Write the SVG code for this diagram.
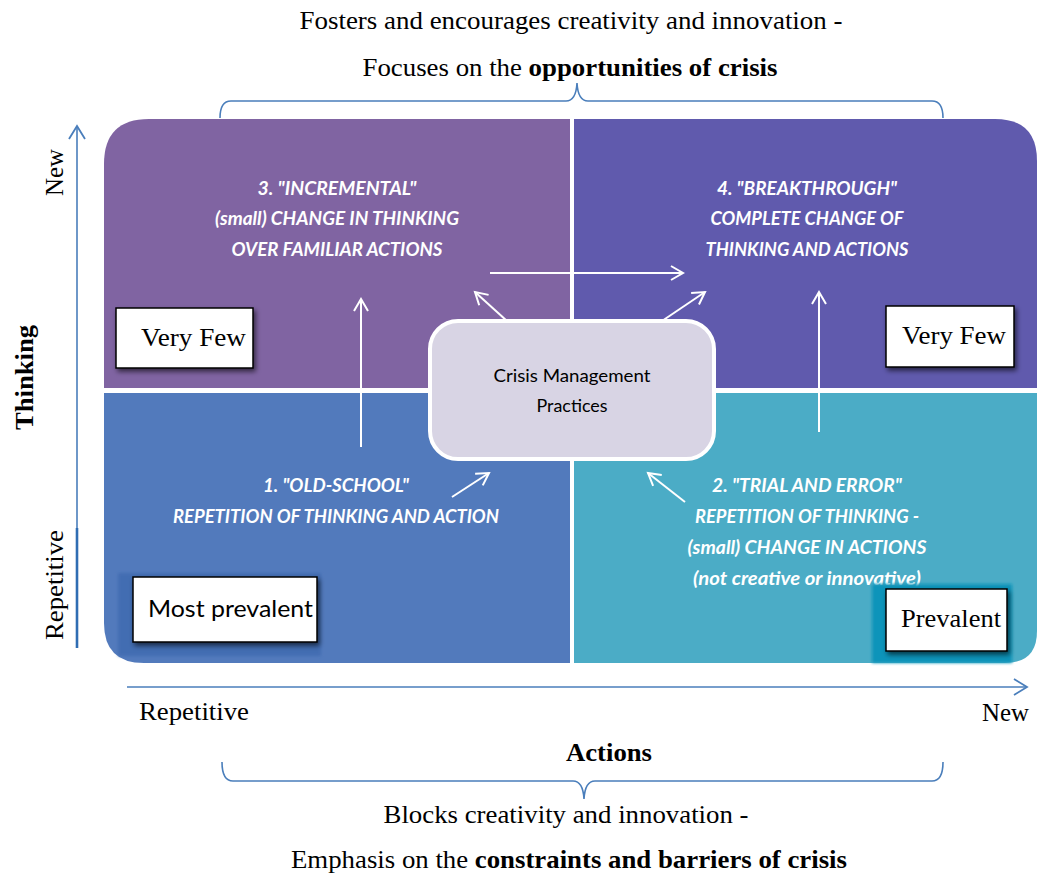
<svg xmlns="http://www.w3.org/2000/svg" width="1037" height="875" viewBox="0 0 1037 875">
<defs>
<style>
.serif{font-family:"Liberation Serif","Times New Roman",serif;fill:#000}
.q{font-family:Lato,"Open Sans",sans-serif;font-weight:bold;font-style:italic;font-size:18px;fill:#fff;text-anchor:middle}
.sans{font-family:Lato,"Open Sans",sans-serif;fill:#000}
.wa{stroke:#fff;stroke-width:2;fill:none}
.ax{stroke:#4A7EBB;stroke-width:1.6;fill:none}
.lbl{fill:#fff;stroke:#000;stroke-width:1.5}
</style>
<marker id="wh" markerUnits="userSpaceOnUse" markerWidth="16" markerHeight="16" refX="13" refY="8" orient="auto">
<path d="M1,1 L13,8 L1,15" fill="none" stroke="#fff" stroke-width="2"/>
</marker>
<marker id="bh" markerUnits="userSpaceOnUse" markerWidth="16" markerHeight="20" refX="14" refY="10" orient="auto">
<path d="M1,2 L14,10 L1,18" fill="none" stroke="#4A7EBB" stroke-width="1.8"/>
</marker>
<filter id="sh" x="-20%" y="-20%" width="150%" height="160%">
<feDropShadow dx="2" dy="3" stdDeviation="2.5" flood-color="#000" flood-opacity="0.6"/>
</filter>
<filter id="blur" x="-10%" y="-10%" width="120%" height="120%">
<feGaussianBlur stdDeviation="1.5"/>
</filter>
</defs>

<g id="quadrant-3">
<path d="M104,164 Q104,119 149,119 L570,119 L570,388 L104,388 Z" fill="#8064A2"/>
<text class="q" x="337" y="195" textLength="159" lengthAdjust="spacingAndGlyphs">3. "INCREMENTAL"</text>
<text class="q" x="337" y="225" textLength="244" lengthAdjust="spacingAndGlyphs">(small) CHANGE IN THINKING</text>
<text class="q" x="337" y="256" textLength="211" lengthAdjust="spacingAndGlyphs">OVER FAMILIAR ACTIONS</text>
</g>
<g id="quadrant-4">
<path d="M574,119 L995,119 Q1037,119 1037,161 L1037,388 L574,388 Z" fill="#605AAD"/>
<text class="q" x="807" y="195" textLength="180" lengthAdjust="spacingAndGlyphs">4. "BREAKTHROUGH"</text>
<text class="q" x="807" y="225" textLength="193" lengthAdjust="spacingAndGlyphs">COMPLETE CHANGE OF</text>
<text class="q" x="807" y="256" textLength="203" lengthAdjust="spacingAndGlyphs">THINKING AND ACTIONS</text>
</g>
<g id="quadrant-1">
<path d="M104,393 L570,393 L570,663 L144,663 Q104,663 104,623 Z" fill="#527ABC"/>
<text class="q" x="336" y="492" textLength="146" lengthAdjust="spacingAndGlyphs">1. "OLD-SCHOOL"</text>
<text class="q" x="336" y="523" textLength="326" lengthAdjust="spacingAndGlyphs">REPETITION OF THINKING AND ACTION</text>
</g>
<g id="quadrant-2">
<path d="M574,393 L1037,393 L1037,631 Q1037,663 1005,663 L574,663 Z" fill="#4BACC6"/>
<text class="q" x="807" y="492" textLength="190" lengthAdjust="spacingAndGlyphs">2. "TRIAL AND ERROR"</text>
<text class="q" x="807" y="523" textLength="224" lengthAdjust="spacingAndGlyphs">REPETITION OF THINKING -</text>
<text class="q" x="807" y="554" textLength="239" lengthAdjust="spacingAndGlyphs">(small) CHANGE IN  ACTIONS</text>
<text class="q" x="807" y="585" textLength="228" lengthAdjust="spacingAndGlyphs">(not creative or innovative)</text>
</g>

<g id="connectors">
<line class="wa" x1="361" y1="447" x2="361" y2="299" marker-end="url(#wh)"/>
<line class="wa" x1="507" y1="321" x2="475" y2="292" marker-end="url(#wh)"/>
<line class="wa" x1="490" y1="273" x2="683" y2="273" marker-end="url(#wh)"/>
<line class="wa" x1="662" y1="321" x2="705" y2="292" marker-end="url(#wh)"/>
<line class="wa" x1="819" y1="432" x2="819" y2="292" marker-end="url(#wh)"/>
<line class="wa" x1="452" y1="497" x2="489" y2="473" marker-end="url(#wh)"/>
<line class="wa" x1="685" y1="502" x2="648" y2="473" marker-end="url(#wh)"/>
</g>

<g id="center">
<rect x="430" y="321" width="284" height="138" rx="28" fill="#D8D4E4" stroke="#fff" stroke-width="4"/>
<text class="sans" x="572" y="382" font-size="18" text-anchor="middle" textLength="157" lengthAdjust="spacingAndGlyphs">Crisis Management</text>
<text class="sans" x="572" y="412" font-size="18" text-anchor="middle" textLength="71" lengthAdjust="spacingAndGlyphs">Practices</text>
</g>

<g id="label-very-few-left">
<rect class="lbl" x="116" y="308" width="137" height="60" filter="url(#sh)"/>
<text class="serif" x="141" y="346" font-size="26" textLength="105" lengthAdjust="spacingAndGlyphs">Very Few</text>
</g>
<g id="label-very-few-right">
<rect class="lbl" x="886" y="306" width="128" height="61" filter="url(#sh)"/>
<text class="serif" x="902" y="344" font-size="26" textLength="104" lengthAdjust="spacingAndGlyphs">Very Few</text>
</g>
<g id="label-most-prevalent">
<rect x="118" y="573" width="203" height="83" fill="#426DB2" filter="url(#blur)"/>
<rect class="lbl" x="133" y="577" width="184" height="65" filter="url(#sh)"/>
<text class="sans" x="148" y="617" font-size="24" textLength="165" lengthAdjust="spacingAndGlyphs">Most prevalent</text>
</g>
<g id="label-prevalent">
<rect x="872" y="584" width="140" height="79" fill="#0A94BA" filter="url(#blur)"/>
<rect class="lbl" x="886" y="589" width="121" height="62" filter="url(#sh)"/>
<text class="serif" x="901" y="627" font-size="26" textLength="100" lengthAdjust="spacingAndGlyphs">Prevalent</text>
</g>

<g id="axis-thinking">
<line class="ax" x1="77" y1="648" x2="77" y2="126" marker-end="url(#bh)"/>
<line x1="77" y1="528" x2="77" y2="648" stroke="#2F6DB3" stroke-width="2.6"/>
<text class="serif" transform="translate(63,196) rotate(-90)" font-size="26" textLength="47" lengthAdjust="spacingAndGlyphs">New</text>
<text class="serif" transform="translate(33,430) rotate(-90)" font-size="26" font-weight="bold" textLength="105" lengthAdjust="spacingAndGlyphs">Thinking</text>
<text class="serif" transform="translate(63,640) rotate(-90)" font-size="26" textLength="110" lengthAdjust="spacingAndGlyphs">Repetitive</text>
</g>

<g id="axis-actions">
<line class="ax" x1="127" y1="687" x2="1027" y2="687" marker-end="url(#bh)"/>
<text class="serif" x="139" y="720" font-size="26" textLength="110" lengthAdjust="spacingAndGlyphs">Repetitive</text>
<text class="serif" x="982" y="721" font-size="26" textLength="47" lengthAdjust="spacingAndGlyphs">New</text>
<text class="serif" x="609" y="761" font-size="26" font-weight="bold" text-anchor="middle" textLength="86" lengthAdjust="spacingAndGlyphs">Actions</text>
</g>

<g id="top-brace">
<path class="ax" d="M220,118 Q220,101 231,101 L566,101 Q576,101 577,83 Q578,101 588,101 L932,101 Q943,101 943,118"/>
<text class="serif" x="571" y="29" font-size="26" text-anchor="middle" textLength="543" lengthAdjust="spacingAndGlyphs">Fosters and encourages creativity and innovation -</text>
<text class="serif" x="570" y="76" font-size="26" text-anchor="middle" textLength="415" lengthAdjust="spacingAndGlyphs">Focuses on the <tspan font-weight="bold">opportunities of crisis</tspan></text>
</g>

<g id="bottom-brace">
<path class="ax" d="M222,762 Q222,781 233,781 L573,781 Q583,781 584,799 Q585,781 595,781 L932,781 Q943,781 943,762"/>
<text class="serif" x="566" y="823" font-size="26" text-anchor="middle" textLength="365" lengthAdjust="spacingAndGlyphs">Blocks creativity and innovation -</text>
<text class="serif" x="569" y="868" font-size="26" text-anchor="middle" textLength="556" lengthAdjust="spacingAndGlyphs">Emphasis on the <tspan font-weight="bold">constraints and barriers of crisis</tspan></text>
</g>
</svg>
